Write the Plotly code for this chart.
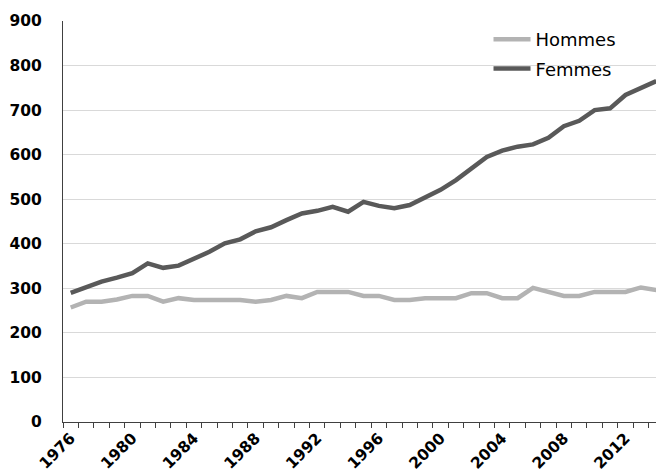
import plotly.graph_objects as go

years = list(range(1976, 2015))

hommes = [257, 270, 270, 275, 283, 283, 270, 278, 274, 274,
          274, 274, 270, 274, 283, 278, 292, 292, 292, 283,
          283, 274, 274, 278, 278, 278, 289, 289, 278, 278,
          301, 292, 283, 283, 292, 292, 292, 302, 296]

femmes = [290, 302, 315, 324, 334, 356, 346, 351, 367, 382,
          401, 410, 428, 437, 453, 468, 474, 483, 472, 494,
          485, 480, 487, 504, 521, 543, 569, 595, 609, 618,
          623, 638, 664, 676, 700, 704, 734, 749, 765]

label_years = [1976, 1980, 1984, 1988, 1992, 1996, 2000, 2004, 2008, 2012]

fig = go.Figure()

fig.add_trace(go.Scatter(
    x=years, y=hommes, mode='lines', name='Hommes',
    line=dict(color='#b3b3b3', width=4.5),
    legendgroup='h'
))
fig.add_trace(go.Scatter(
    x=years, y=femmes, mode='lines', name='Femmes',
    line=dict(color='#595959', width=4.5),
    legendgroup='f'
))

tick_font = dict(family='DejaVu Sans', size=15.5, color='#000000', weight='bold')

# the page body keeps an 8px margin, so the figure is 8px smaller than the window
fig.update_layout(
    width=656,
    height=462,
    margin=dict(l=55, r=0, t=13, b=48),
    paper_bgcolor='white',
    plot_bgcolor='white',
    showlegend=True,
    legend=dict(
        x=0.708, y=1.0, xanchor='left', yanchor='top',
        font=dict(family='DejaVu Sans', size=18, color='#000000'),
        bgcolor='rgba(0,0,0,0)',
        tracegroupgap=3,
        itemwidth=37,
    ),
    xaxis=dict(
        range=[1975.5, 2014.5],
        tickmode='array',
        tickvals=label_years,
        ticktext=[str(y) for y in label_years],
        tickangle=-45,
        ticks='',
        tickfont=tick_font,
        showgrid=False,
        zeroline=False,
        showline=True,
        linecolor='#404040',
        linewidth=1,
        automargin=False,
        minor=dict(tick0=1975.5, dtick=1, ticks='outside', ticklen=5,
                   tickcolor='#404040', showgrid=False),
    ),
    yaxis=dict(
        range=[0, 900],
        dtick=100,
        tickfont=tick_font,
        ticks='',
        ticklabelstandoff=17,
        showgrid=True,
        gridcolor='#d9d9d9',
        gridwidth=1,
        zeroline=False,
        showline=True,
        linecolor='#404040',
        linewidth=1,
        automargin=False,
    ),
)

fig.write_html("out.html")
